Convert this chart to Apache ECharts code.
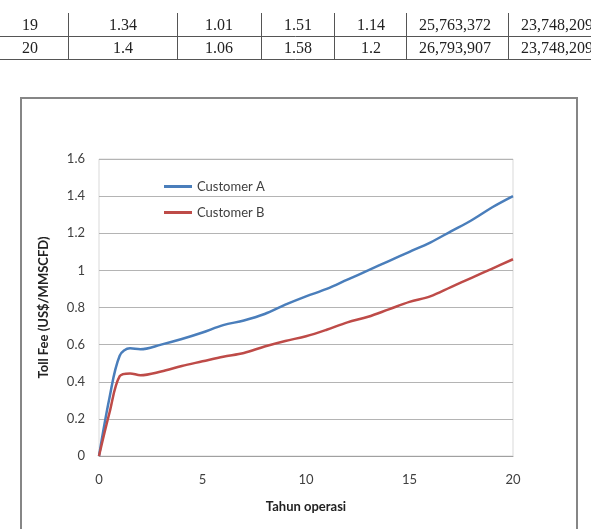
<!DOCTYPE html>
<html><head><meta charset="utf-8">
<script src="https://cdn.jsdelivr.net/npm/echarts@6/dist/echarts.min.js"></script>
<style>html,body{margin:0;padding:0;background:#fff}#c{width:591px;height:529px}</style>
</head><body><div id="c"></div>
<script>
// Chart data
var years = [0, 0.5, 1, 1.5, 2, 3, 4, 5, 6, 7, 8, 9, 10, 11, 12, 13, 14, 15, 16, 17, 18, 19, 20];
var customerA = [0, 0.31, 0.54, 0.58, 0.575, 0.60, 0.63, 0.665, 0.705, 0.73, 0.765, 0.815, 0.86, 0.90, 0.95, 1.00, 1.05, 1.10, 1.15, 1.21, 1.27, 1.34, 1.40];
var customerB = [0, 0.23, 0.43, 0.445, 0.435, 0.455, 0.485, 0.51, 0.535, 0.555, 0.59, 0.62, 0.645, 0.68, 0.72, 0.75, 0.79, 0.83, 0.86, 0.91, 0.96, 1.01, 1.06];
var seriesNames = ['Customer A', 'Customer B'];
var xTicks = [0, 5, 10, 15, 20];
var yTicks = [0, 0.2, 0.4, 0.6, 0.8, 1, 1.2, 1.4, 1.6];
// Table fragment above the chart
var tableRow19 = ['19', '1.34', '1.01', '1.51', '1.14', '25,763,372', '23,748,209'];
var tableRow20 = ['20', '1.4', '1.06', '1.58', '1.2', '26,793,907', '23,748,209'];

var colX = [30, 123, 219, 298, 371, 455, 557];
var vLines = [68, 177, 261, 334, 406, 508];
var rowY = [26, 49];

var graphics = [];
[tableRow19, tableRow20].forEach(function (row, r) {
  row.forEach(function (t, i) {
    graphics.push({type: 'text', x: colX[i], y: rowY[r], silent: true,
      style: {text: t, textAlign: 'center', textVerticalAlign: 'middle',
        font: '16px "Liberation Serif"', fill: '#222'}});
  });
});
graphics.push({type: 'line', shape: {x1: 0, y1: 36.5, x2: 591, y2: 36.5}, style: {stroke: '#555', lineWidth: 1}});
graphics.push({type: 'line', shape: {x1: 0, y1: 59.5, x2: 591, y2: 59.5}, style: {stroke: '#555', lineWidth: 1}});
vLines.forEach(function (x) {
  graphics.push({type: 'line', shape: {x1: x + 0.5, y1: 13, x2: x + 0.5, y2: 59}, style: {stroke: '#555', lineWidth: 1}});
});
// chart frame
graphics.push({type: 'rect', shape: {x: 21, y: 98, width: 556, height: 450},
  style: {fill: 'none', stroke: '#868686', lineWidth: 2}, z: -1});

var chart = echarts.init(document.getElementById('c'), null, {renderer: 'canvas'});
chart.setOption({
  animation: false,
  backgroundColor: '#fff',
  textStyle: {fontFamily: 'Lato'},
  graphic: graphics,
  grid: {left: 99, right: 78, top: 159, bottom: 73, show: true, borderColor: '#d9d9d9', borderWidth: 1},
  legend: {
    orient: 'vertical', left: 159, top: 175, itemWidth: 28, itemHeight: 3, itemGap: 13,
    icon: 'rect', data: seriesNames,
    textStyle: {fontFamily: 'Lato', fontSize: 13, color: '#404040'}
  },
  xAxis: {
    type: 'value', min: xTicks[0], max: xTicks[xTicks.length - 1], interval: 5,
    name: 'Tahun operasi', nameLocation: 'middle', nameGap: 44,
    nameTextStyle: {fontFamily: 'Lato', fontWeight: 'bold', fontSize: 13, color: '#222'},
    axisLine: {show: true, lineStyle: {color: '#a0a0a0', width: 1}},
    axisTick: {show: false},
    splitLine: {show: false},
    axisLabel: {margin: 17, fontFamily: 'Lato', fontSize: 13, color: '#404040'}
  },
  yAxis: {
    type: 'value', min: yTicks[0], max: yTicks[yTicks.length - 1], interval: 0.2,
    name: 'Toll Fee (US$/MMSCFD)', nameLocation: 'middle', nameGap: 49,
    nameTextStyle: {fontFamily: 'Lato', fontWeight: 'bold', fontSize: 13, color: '#222'},
    axisLine: {show: false},
    axisTick: {show: false},
    splitLine: {show: true, lineStyle: {color: '#b4b4b4', width: 1}},
    axisLabel: {margin: 14, fontFamily: 'Lato', fontSize: 13, color: '#404040',
      formatter: function (v) { return String(Math.round(v * 10) / 10); }}
  },
  series: [
    {name: seriesNames[0], type: 'line', smooth: 0.35, showSymbol: false, symbol: 'none',
      data: years.map(function (x, i) { return [x, customerA[i]]; }),
      lineStyle: {color: '#4a7ebb', width: 2.5}, itemStyle: {color: '#4a7ebb'}},
    {name: seriesNames[1], type: 'line', smooth: 0.35, showSymbol: false, symbol: 'none',
      data: years.map(function (x, i) { return [x, customerB[i]]; }),
      lineStyle: {color: '#be4b48', width: 2.5}, itemStyle: {color: '#be4b48'}}
  ]
});
</script></body></html>
